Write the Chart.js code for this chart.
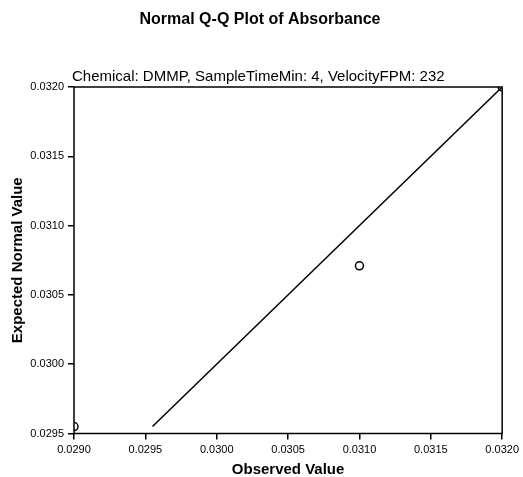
<!DOCTYPE html>
<html>
<head>
<meta charset="utf-8">
<title>Normal Q-Q Plot of Absorbance</title>
<script src="https://cdn.jsdelivr.net/npm/chart.js@4/dist/chart.umd.min.js"></script>
<style>
    html, body { margin: 0; padding: 0; background: #fff; }
    #wrap { width: 523px; height: 477px; position: relative; }
</style>
</head>
<body>
<div id="wrap"><canvas id="qqChart" width="523" height="477"></canvas></div>
<script>
// Observed absorbance vs. expected normal quantile
const observedValues = [0.0290, 0.0310, 0.0320];
const expectedValues = [0.02955, 0.03071, 0.0320];

// Reference line (y = x) endpoints
const refLineX = [0.02955, 0.0320];
const refLineY = [0.02955, 0.0320];

const xTicks = [0.0290, 0.0295, 0.0300, 0.0305, 0.0310, 0.0315, 0.0320];
const yTicks = [0.0295, 0.0300, 0.0305, 0.0310, 0.0315, 0.0320];

const chartTitle = 'Normal Q-Q Plot of Absorbance';
const chartSubtitle = 'Chemical: DMMP, SampleTimeMin: 4, VelocityFPM: 232';
const xTitle = 'Observed Value';
const yTitle = 'Expected Normal Value';

const FONT = '"Liberation Sans", Arial, sans-serif';

// Titles, box frame and axis titles drawn by hand
const frameAndTitles = {
    id: 'frameAndTitles',
    afterDraw(chart) {
        const { ctx, chartArea: a } = chart;
        ctx.save();
        ctx.strokeStyle = '#000';
        ctx.lineWidth = 1.5;
        ctx.strokeRect(a.left, a.top, a.right - a.left, a.bottom - a.top);

        ctx.fillStyle = '#000';
        ctx.textAlign = 'center';
        ctx.textBaseline = 'middle';
        ctx.font = 'bold 16px ' + FONT;
        ctx.fillText(chartTitle, 260, 20);

        ctx.textAlign = 'left';
        ctx.font = '15px ' + FONT;
        ctx.fillText(chartSubtitle, a.left - 2, a.top - 10);

        ctx.textAlign = 'center';
        ctx.font = 'bold 15px ' + FONT;
        ctx.fillText(xTitle, (a.left + a.right) / 2, 470);

        ctx.translate(18, (a.top + a.bottom) / 2);
        ctx.rotate(-Math.PI / 2);
        ctx.fillText(yTitle, 0, 0);
        ctx.restore();
    }
};

new Chart(document.getElementById('qqChart'), {
    type: 'scatter',
    data: {
        datasets: [
            {
                label: 'Reference',
                type: 'line',
                data: refLineX.map((x, i) => ({ x: x, y: refLineY[i] })),
                borderColor: '#000',
                borderWidth: 1.5,
                pointRadius: 0,
                fill: false,
                clip: 0
            },
            {
                label: 'Absorbance',
                data: observedValues.map((x, i) => ({ x: x, y: expectedValues[i] })),
                pointStyle: 'circle',
                pointRadius: 4,
                pointBorderWidth: 1.5,
                pointBorderColor: '#000',
                pointBackgroundColor: 'rgba(0,0,0,0)',
                clip: 0
            }
        ]
    },
    options: {
        responsive: false,
        animation: false,
        layout: { padding: { left: 0, right: 20, top: 87, bottom: 0 } },
        plugins: {
            legend: { display: false },
            tooltip: { enabled: false }
        },
        scales: {
            x: {
                type: 'linear',
                min: 0.0290,
                max: 0.0320,
                afterBuildTicks: axis => { axis.ticks = xTicks.map(v => ({ value: v })); },
                afterFit: axis => { axis.height = 43.5; },
                grid: {
                    drawOnChartArea: false,
                    tickLength: 6,
                    color: '#000',
                    lineWidth: 1.5
                },
                border: { display: false },
                ticks: {
                    color: '#000',
                    padding: 4,
                    maxRotation: 0,
                    font: { family: FONT, size: 11 },
                    callback: v => v.toFixed(4)
                }
            },
            y: {
                type: 'linear',
                min: 0.0295,
                max: 0.0320,
                afterBuildTicks: axis => { axis.ticks = yTicks.map(v => ({ value: v })); },
                afterFit: axis => { axis.width = 74; },
                grid: {
                    drawOnChartArea: false,
                    tickLength: 6,
                    color: '#000',
                    lineWidth: 1.5
                },
                border: { display: false },
                ticks: {
                    color: '#000',
                    padding: 4,
                    font: { family: FONT, size: 11 },
                    callback: v => v.toFixed(4)
                }
            }
        }
    },
    plugins: [frameAndTitles]
});
</script>
</body>
</html>
